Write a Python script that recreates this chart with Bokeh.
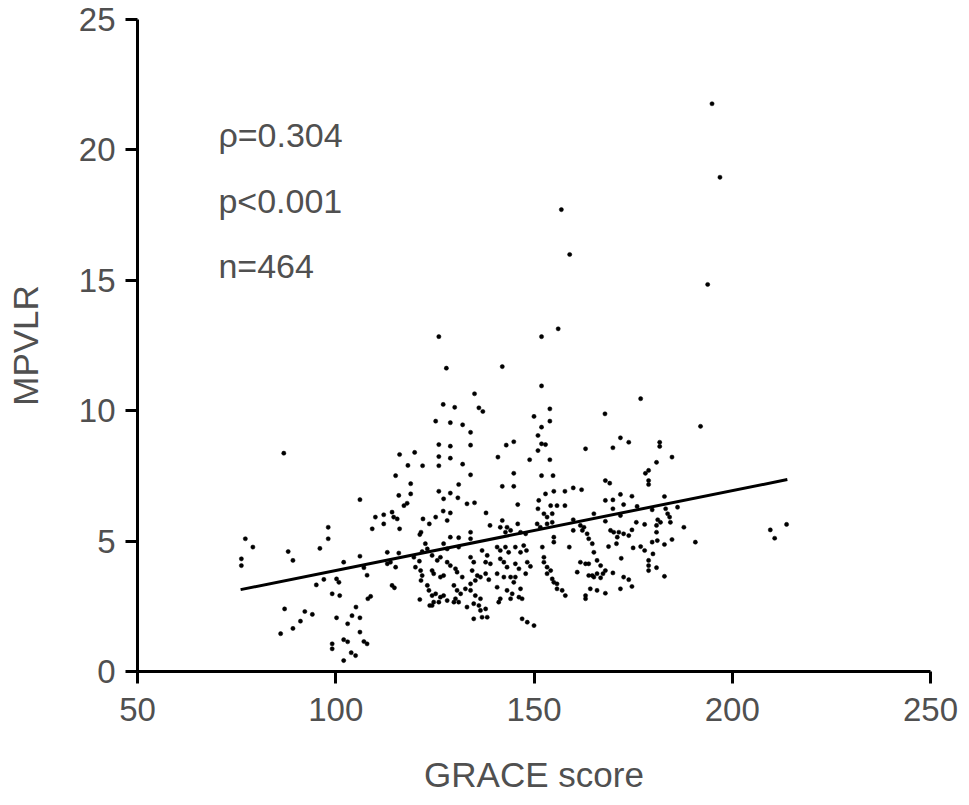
from bokeh.plotting import figure
from bokeh.models import Range1d, FixedTicker, ColumnDataSource
from bokeh.core.properties import value
from bokeh.embed import file_html
from bokeh.resources import INLINE

# ---- data ----
grace = [
    118.9, 115.9, 118.9, 117.2, 118.0, 106.1, 110.0, 112.1, 114.2, 114.6, 115.5, 112.1, 109.2, 116.1,
    122.0, 123.6, 121.5, 121.2, 98.1, 98.1, 77.2, 79.1, 76.2, 76.2, 88.0, 89.2, 96.0, 102.0, 106.1,
    113.0, 113.8, 115.1, 115.9, 113.0, 121.1, 121.8, 121.4, 121.8, 121.5, 123.1, 123.5, 121.2, 123.7,
    107.1, 107.9, 97.0, 100.2, 100.8, 95.1, 114.2, 114.8, 99.1, 101.0, 108.8, 108.1, 87.1, 92.2, 94.1,
    91.1, 89.2, 86.1, 105.1, 100.2, 104.1, 106.1, 103.0, 106.1, 102.0, 103.0, 99.1, 99.1, 107.1, 107.9,
    103.9, 105.0, 102.0, 86.9,
    131.0, 142.0, 144.9, 126.0, 128.9, 127.2, 130.8, 133.1, 135.0, 145.9, 152.9, 155.0, 157.8, 159.9,
    162.0, 151.2, 151.0, 154.2, 155.8, 157.8, 152.5, 154.6, 153.3, 137.9, 127.1, 128.9, 125.2, 128.1,
    138.9, 142.0, 143.2, 145.9, 150.8, 151.6, 153.3, 154.6, 159.9, 161.7, 162.2, 159.9, 165.1, 128.9,
    131.0, 134.0, 134.0, 141.5, 142.8, 144.1, 147.9, 146.6, 155.0, 155.0, 163.8, 164.7, 158.9, 122.6,
    123.1, 127.2, 128.1, 131.0, 136.9, 138.2, 140.7, 141.5, 142.8, 143.6, 145.3, 147.4, 148.1, 146.6,
    152.1, 152.5, 165.1, 119.7, 120.1, 124.3, 125.6, 126.4, 128.1, 128.9, 130.2, 134.0, 134.8, 137.8,
    139.0, 141.5, 142.4, 143.2, 145.3, 146.2, 148.3, 149.1, 152.5, 153.3, 154.2, 161.7, 163.0, 163.8,
    124.3, 124.7, 126.4, 127.2, 130.6, 131.9, 134.4, 135.7, 136.5, 137.8, 138.6, 135.2, 134.0, 132.7,
    140.7, 142.4, 144.1, 145.3, 144.9, 147.9, 153.3, 154.6, 155.8, 160.9, 164.7, 165.9, 125.2, 126.4,
    127.2, 129.8, 130.6, 131.5, 134.0, 135.2, 136.5, 140.7, 143.2, 144.5, 146.6, 146.2, 147.0, 155.8,
    157.9, 163.0, 163.0, 164.2, 165.9, 124.7, 128.1, 129.8, 133.1, 136.1, 137.8, 141.5, 141.1, 144.1,
    134.8, 136.9, 138.2, 147.0, 148.3, 150.0,
    124.3, 124.3, 126.0, 130.2, 131.0, 134.8, 136.5, 155.0, 157.1, 168.0, 171.8, 174.7,
    180.9, 178.1, 178.9, 178.9, 178.9, 168.0, 169.1, 168.0, 169.9, 171.8, 174.7, 172.6, 169.9, 176.0,
    182.9, 179.8, 183.2, 183.7, 186.2, 168.0, 171.8, 175.8, 177.9, 181.2, 181.9, 180.9, 184.2, 184.4,
    187.8, 169.3, 170.1, 171.4, 171.0, 170.8, 172.6, 173.9, 174.7, 168.8, 163.4, 162.6, 180.9, 179.8,
    181.1, 182.9, 184.8, 190.7, 175.0, 176.9, 177.9, 180.0, 172.0, 165.9, 166.8, 178.9, 178.9, 178.9,
    180.9, 168.0, 169.9, 167.4, 163.8, 165.1, 166.8, 182.9, 172.6, 173.9, 209.6, 210.7, 213.7,
    126.0, 151.9, 156.1, 127.9, 142.0, 151.9, 135.0, 127.1, 130.0, 136.1, 137.1, 150.0, 154.0, 154.0,
    151.9, 125.2, 128.9, 132.0, 134.0, 151.0, 151.9, 152.9, 151.0, 126.0, 128.9, 134.0, 143.0, 144.9,
    116.1, 119.9, 126.0, 128.9, 140.9, 148.9, 154.0, 118.2, 121.9, 126.0, 132.0, 115.1, 134.0, 144.9,
    151.9, 154.8,
    176.9, 167.9, 192.0, 171.8, 173.9, 163.0, 169.9, 181.7, 181.7, 184.8,
    194.9, 196.9, 193.8, 156.9, 159.0,
]
mpvlr = [
    7.20, 6.75, 6.81, 6.36, 6.45, 6.59, 5.92, 6.01, 6.11, 5.92, 5.85, 5.66, 5.47, 5.47,
    5.85, 5.66, 5.34, 5.25, 5.53, 5.09, 5.09, 4.77, 4.32, 4.06, 4.60, 4.26, 4.72, 4.19, 4.42,
    4.57, 4.19, 4.00, 4.54, 4.13, 4.23, 4.60, 3.87, 3.68, 3.49, 3.30, 3.11, 2.76, 2.53,
    3.98, 3.69, 3.53, 3.55, 3.42, 3.32, 3.30, 3.21, 2.98, 2.91, 2.88, 2.79, 2.40, 2.30, 2.19,
    1.93, 1.65, 1.45, 2.47, 2.06, 2.14, 2.06, 1.83, 1.51, 1.22, 1.14, 1.06, 0.87, 1.15, 1.06,
    0.72, 0.61, 0.42, 8.37,
    7.17, 7.10, 7.10, 6.91, 6.84, 6.62, 6.66, 6.43, 6.47, 6.40, 6.81, 6.91, 6.91, 7.04,
    6.97, 6.56, 6.24, 6.36, 6.36, 6.36, 6.05, 6.05, 5.92, 6.08, 6.15, 6.08, 5.92, 5.79,
    5.60, 5.79, 5.53, 5.66, 5.66, 5.53, 5.66, 5.72, 5.82, 5.60, 5.41, 5.41, 6.05, 5.15,
    5.13, 5.34, 5.09, 5.53, 5.34, 5.41, 5.28, 5.34, 5.15, 4.96, 5.09, 4.90, 4.77, 4.90,
    4.70, 4.90, 4.70, 4.77, 4.64, 4.45, 4.77, 4.64, 4.77, 4.57, 4.77, 4.83, 4.64, 4.57,
    4.77, 4.38, 4.57, 4.38, 4.00, 4.45, 4.26, 4.38, 4.19, 4.06, 3.94, 4.38, 4.19, 4.19,
    4.13, 4.32, 4.19, 4.00, 4.13, 3.94, 4.19, 4.03, 4.19, 4.00, 3.87, 4.19, 4.13, 4.13,
    3.87, 3.75, 3.62, 3.68, 3.81, 3.62, 3.87, 3.68, 3.62, 3.75, 3.52, 3.49, 3.36, 3.17,
    3.75, 3.62, 3.62, 3.62, 3.42, 3.75, 3.75, 3.55, 3.36, 3.81, 3.68, 3.75, 2.98, 2.85,
    2.91, 3.30, 3.11, 2.98, 3.11, 2.91, 2.79, 3.23, 3.11, 2.98, 3.17, 2.85, 2.79, 3.17,
    2.91, 2.91, 2.79, 3.17, 3.11, 2.66, 2.72, 2.66, 2.47, 2.53, 2.40, 2.79, 2.66, 2.79,
    2.02, 2.08, 2.08, 2.02, 1.89, 1.76,
    2.91, 2.53, 2.66, 2.79, 2.66, 2.60, 2.34, 3.42, 3.11, 3.00, 3.17, 3.26,
    8.02, 7.60, 7.71, 7.32, 7.17, 7.32, 7.22, 6.56, 6.58, 6.79, 6.72, 6.40, 6.24, 6.33,
    6.71, 6.20, 6.24, 6.05, 6.30, 5.76, 5.98, 5.72, 5.64, 5.82, 5.72, 5.60, 5.92, 5.72,
    5.53, 5.41, 5.34, 5.34, 5.15, 4.90, 5.28, 5.21, 5.43, 4.79, 5.28, 5.53, 5.34, 4.96,
    5.02, 4.87, 5.06, 4.96, 4.74, 4.79, 4.64, 4.51, 4.34, 4.26, 4.06, 4.26, 4.06, 3.87,
    3.98, 3.87, 3.78, 3.75, 3.68, 3.62, 3.59, 3.65, 3.62, 3.52, 5.43, 5.11, 5.64,
    12.84, 12.84, 13.14, 11.63, 11.69, 10.95, 10.65, 10.24, 10.13, 10.11, 9.97, 9.78, 10.07, 9.60,
    9.37, 9.60, 9.54, 9.46, 9.17, 9.05, 8.73, 8.70, 8.47, 8.70, 8.64, 8.68, 8.68, 8.81,
    8.32, 8.40, 8.24, 8.18, 8.22, 8.12, 8.12, 7.90, 7.89, 7.89, 7.95, 7.51, 7.54, 7.60,
    7.51, 7.51,
    10.46, 9.88, 9.40, 8.96, 8.79, 8.54, 8.58, 8.79, 8.63, 8.22,
    21.77, 18.95, 14.84, 17.71, 15.99,
]

# regression line end points
fit_x = [76.0, 213.9]
fit_y = [3.14, 7.36]

x_ticks = [50, 100, 150, 200, 250]
y_ticks = [0, 5, 10, 15, 20, 25]

stat_labels = ["ρ=0.304", "p<0.001", "n=464"]
stat_x = [70.4, 70.4, 70.4]
stat_y = [20.57, 18.04, 15.55]

FONT = "Liberation Sans"
TXT = "#505050"

p = figure(width=960, height=800, output_backend="svg", toolbar_location=None,
           x_range=Range1d(50, 250), y_range=Range1d(0, 25),
           min_border_left=137, min_border_right=30, min_border_top=19, min_border_bottom=129)
p.outline_line_color = None
p.xgrid.visible = False
p.ygrid.visible = False
p.background_fill_color = "white"
p.border_fill_color = "white"

for ax, ticks in ((p.xaxis[0], x_ticks), (p.yaxis[0], y_ticks)):
    ax.ticker = FixedTicker(ticks=ticks)
    ax.axis_line_width = 3
    ax.axis_line_color = "black"
    ax.major_tick_line_width = 3
    ax.major_tick_line_color = "black"
    ax.major_tick_out = 12
    ax.major_tick_in = 0
    ax.minor_tick_out = 0
    ax.minor_tick_in = 0
    ax.major_label_text_font = FONT
    ax.major_label_text_font_size = "33px"
    ax.major_label_text_color = TXT
    ax.axis_label_text_font = FONT
    ax.axis_label_text_font_size = "35px"
    ax.axis_label_text_font_style = "normal"
    ax.axis_label_text_color = TXT

p.xaxis[0].axis_label = "GRACE score"
p.xaxis[0].major_label_standoff = 14
p.xaxis[0].axis_label_standoff = 31
p.yaxis[0].axis_label = "MPVLR"
p.yaxis[0].major_label_standoff = 10
p.yaxis[0].axis_label_standoff = 31

src = ColumnDataSource(data=dict(x=grace, y=mpvlr))
p.scatter("x", "y", source=src, size=4.2, fill_color="black", line_color="black", line_width=0.5)
p.line(fit_x, fit_y, line_width=3, line_color="black")

p.text(x=stat_x, y=stat_y, text=stat_labels, text_font=value(FONT), text_font_size="34px",
       text_color=TXT, text_baseline="alphabetic", text_align="left")

open("out.html", "w").write(file_html(p, INLINE))
